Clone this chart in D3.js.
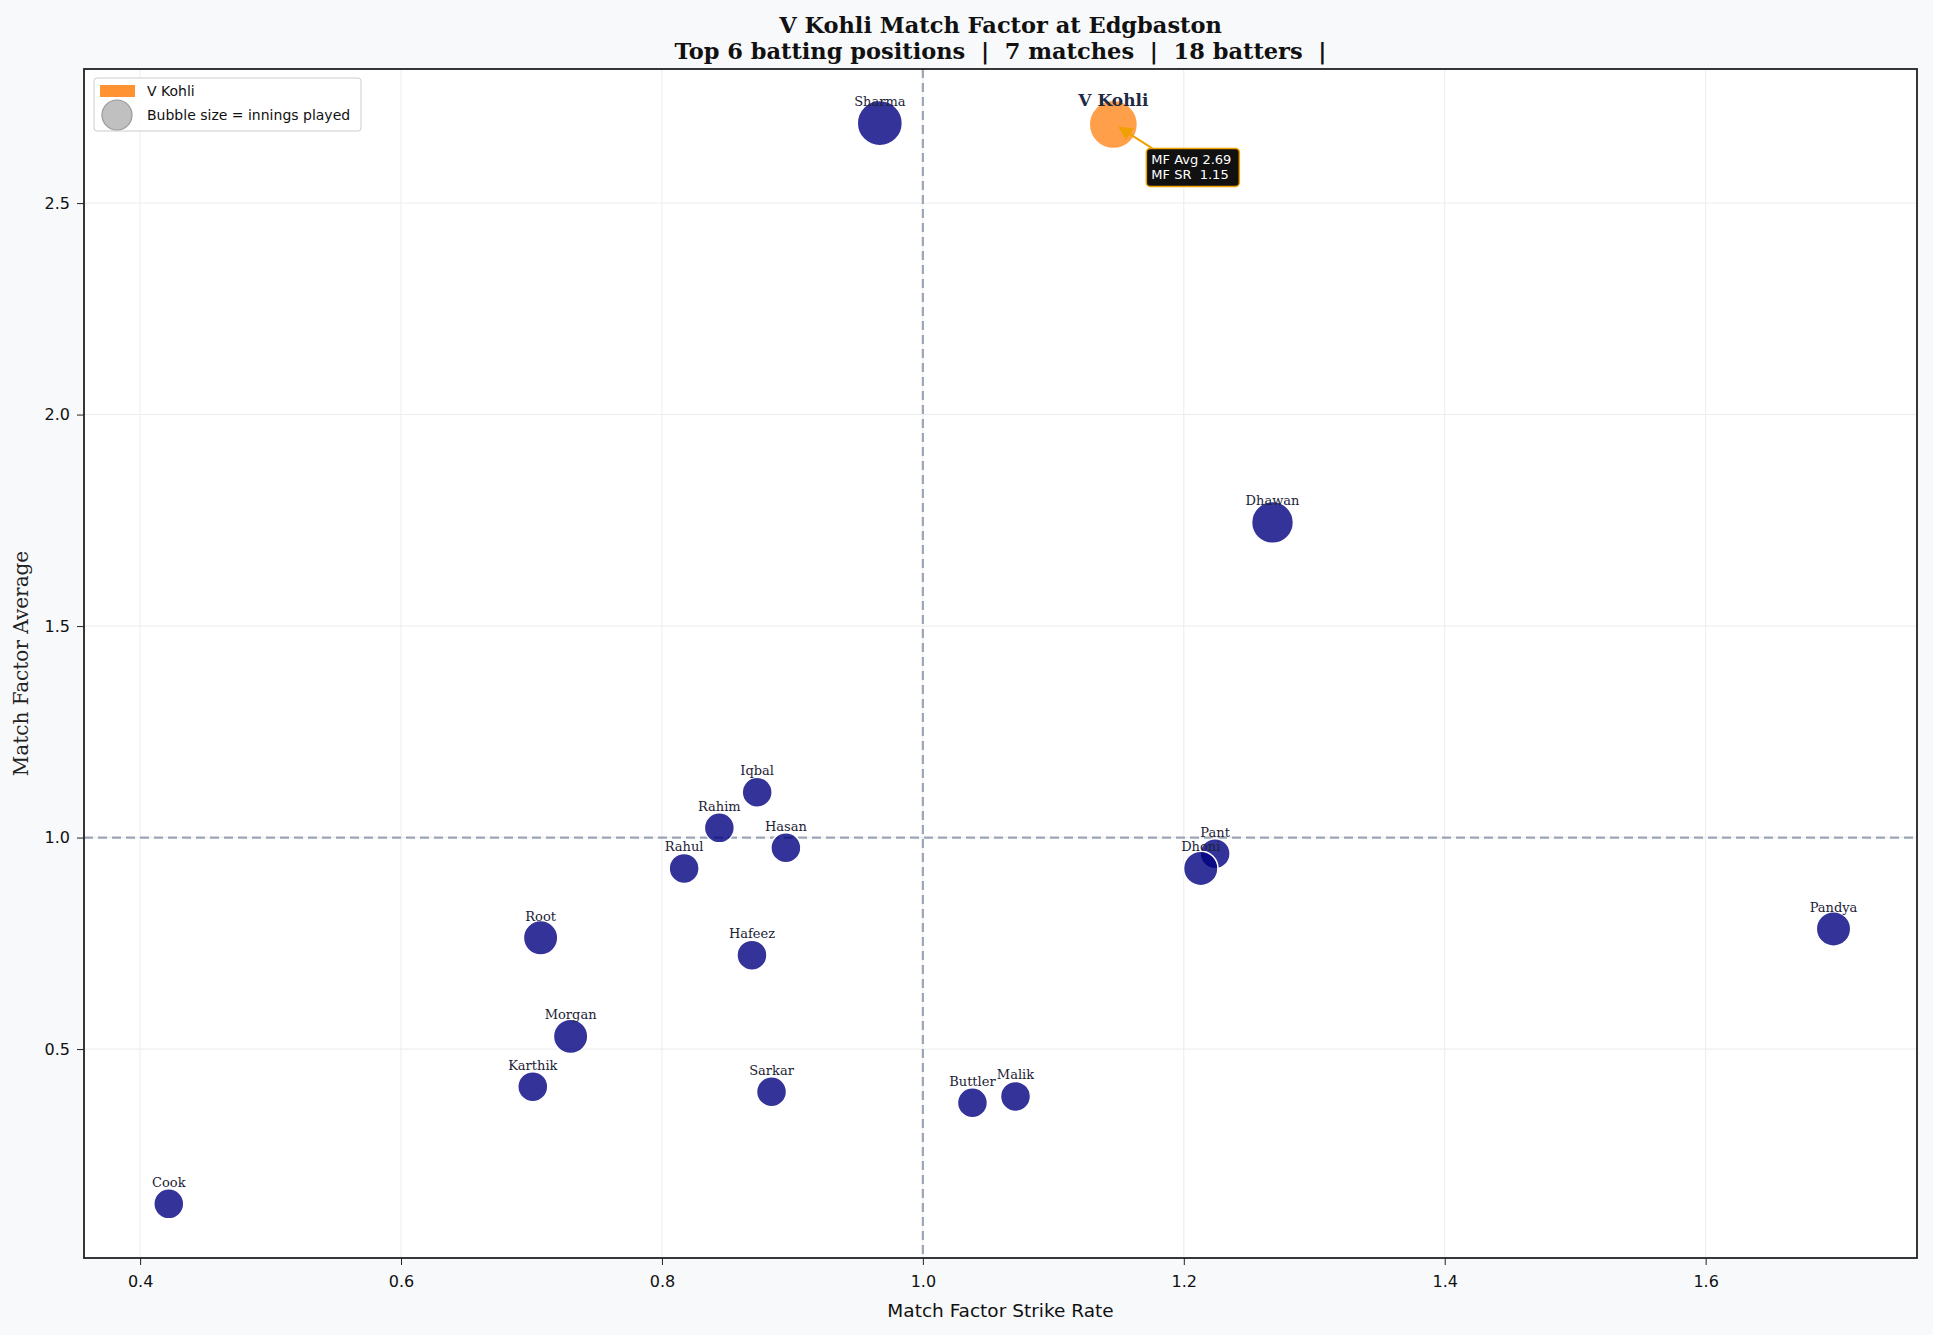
<!DOCTYPE html>
<html>
<head>
<meta charset="utf-8">
<script src="https://cdn.jsdelivr.net/npm/d3@7"></script>
<style>
  body { margin: 0; background: #f8f9fb; }
  svg { display: block; }
</style>
</head>
<body>
<div id="chart"></div>
<script>
// batters at Edgbaston (top 6 positions)
var names   = ["V Kohli", "Sharma", "Dhawan", "Pant", "Dhoni", "Pandya", "Iqbal", "Rahim", "Hasan", "Rahul",
               "Root", "Hafeez", "Morgan", "Karthik", "Sarkar", "Buttler", "Malik", "Cook"];
var mfSR    = [1.146, 0.967, 1.268, 1.224, 1.213, 1.698, 0.873, 0.844, 0.895, 0.817,
               0.707, 0.869, 0.730, 0.701, 0.884, 1.038, 1.071, 0.422];
var mfAvg   = [2.686, 2.689, 1.745, 0.962, 0.927, 0.784, 1.107, 1.023, 0.976, 0.927,
               0.763, 0.722, 0.530, 0.411, 0.399, 0.373, 0.388, 0.134];
var innings = [6, 5, 4, 1, 2, 2, 1, 1, 1, 1,
               2, 1, 2, 1, 1, 1, 1, 1];
var player = "V Kohli";
var annAvg = "2.69", annSR = "1.15";
var xTicks = [0.4, 0.6, 0.8, 1.0, 1.2, 1.4, 1.6];
var yTicks = [0.5, 1.0, 1.5, 2.0, 2.5];

var W = 1933, H = 1335;
var margin = {top: 69, right: 16, bottom: 77, left: 84},
    width = W - margin.left - margin.right,
    height = H - margin.top - margin.bottom;

var sansFont = "'DejaVu Sans', sans-serif";
var serifFont = "'DejaVu Serif', serif";

var data = names.map(function(n, i) {
    return {name: n, x: mfSR[i], y: mfAvg[i], inn: innings[i]};
});

var x = d3.scaleLinear().domain([0.357, 1.762]).range([0, width]);
var y = d3.scaleLinear().domain([0.006, 2.817]).range([height, 0]);
var area = d3.scaleLinear().domain([1, 6]).range([225, 580]);
function radius(d) { return Math.sqrt(area(d.inn)); }

var svg = d3.select("#chart").append("svg")
    .attr("width", W)
    .attr("height", H);

svg.append("rect").attr("width", W).attr("height", H).attr("fill", "#f8f9fb");

var chart = svg.append("g")
    .attr("transform", "translate(" + margin.left + "," + margin.top + ")");

chart.append("rect")
    .attr("width", width).attr("height", height)
    .attr("fill", "#ffffff");

// grid
chart.selectAll(".gx").data(xTicks).enter().append("line")
    .attr("x1", function(d) { return x(d); }).attr("x2", function(d) { return x(d); })
    .attr("y1", 0).attr("y2", height)
    .attr("stroke", "#ececec").attr("stroke-width", 1);
chart.selectAll(".gy").data(yTicks).enter().append("line")
    .attr("y1", function(d) { return y(d); }).attr("y2", function(d) { return y(d); })
    .attr("x1", 0).attr("x2", width)
    .attr("stroke", "#ececec").attr("stroke-width", 1);

// reference lines at 1.0
chart.append("line")
    .attr("x1", x(1)).attr("x2", x(1)).attr("y1", 0).attr("y2", height)
    .attr("stroke", "#9aa5b6").attr("stroke-width", 2.2).attr("stroke-dasharray", "9,5");
chart.append("line")
    .attr("y1", y(1)).attr("y2", y(1)).attr("x1", 0).attr("x2", width)
    .attr("stroke", "#9aa5b6").attr("stroke-width", 2.2).attr("stroke-dasharray", "9,5");

// bubbles
var others = data.filter(function(d) { return d.name !== player; });
var kohli = data.filter(function(d) { return d.name === player; })[0];

chart.selectAll(".bubble").data(others).enter().append("circle")
    .attr("cx", function(d) { return x(d.x); })
    .attr("cy", function(d) { return y(d.y); })
    .attr("r", radius)
    .attr("fill", "#000080")
    .attr("fill-opacity", 0.8)
    .attr("stroke", "#ffffff")
    .attr("stroke-width", 1.5);

chart.selectAll(".lbl").data(others).enter().append("text")
    .attr("x", function(d) { return x(d.x); })
    .attr("y", function(d) { return y(d.y) - 17; })
    .attr("text-anchor", "middle")
    .style("font-family", serifFont)
    .style("font-size", "13px")
    .attr("fill", "#1c2236")
    .text(function(d) { return d.name; });

var kx = x(kohli.x), ky = y(kohli.y);

chart.append("circle")
    .attr("cx", kx).attr("cy", ky)
    .attr("r", radius(kohli))
    .attr("fill", "#ff7f0e")
    .attr("fill-opacity", 0.75)
    .attr("stroke", "#ffffff")
    .attr("stroke-width", 1.5);

chart.append("text")
    .attr("x", kx).attr("y", ky - 18)
    .attr("text-anchor", "middle")
    .style("font-family", serifFont)
    .style("font-size", "17px")
    .style("font-weight", "bold")
    .attr("fill", "#1f2a44")
    .text(player);

// annotation box
var bx = kx + 33, by = ky + 24;
svg.append("defs").append("marker")
    .attr("id", "arr").attr("viewBox", "0 0 10 10")
    .attr("refX", 9).attr("refY", 5)
    .attr("markerWidth", 7).attr("markerHeight", 7)
    .attr("orient", "auto")
    .append("path").attr("d", "M0,0L10,5L0,10z").attr("fill", "#f0a000");

chart.append("line")
    .attr("x1", bx + 6).attr("y1", by)
    .attr("x2", kx + 6).attr("y2", ky + 3)
    .attr("stroke", "#f0a000").attr("stroke-width", 2)
    .attr("marker-end", "url(#arr)");

chart.append("rect")
    .attr("x", bx).attr("y", by)
    .attr("width", 93).attr("height", 38)
    .attr("rx", 4)
    .attr("fill", "#111111")
    .attr("stroke", "#f0a000")
    .attr("stroke-width", 1.5);

var annLines = ["MF Avg " + annAvg, "MF SR  " + annSR];
chart.append("text")
    .attr("x", bx + 5).attr("y", by + 16)
    .style("font-family", sansFont)
    .style("font-size", "13px")
    .style("white-space", "pre")
    .attr("fill", "#ffffff")
    .selectAll("tspan").data(annLines).enter().append("tspan")
    .attr("x", bx + 5)
    .attr("dy", function(d, i) { return i ? 15 : 0; })
    .text(function(d) { return d; });

// axes
var xAxis = chart.append("g")
    .attr("transform", "translate(0," + height + ")")
    .call(d3.axisBottom(x).tickValues(xTicks).tickFormat(d3.format(".1f")).tickSizeOuter(0).tickSize(7).tickPadding(11));
var yAxis = chart.append("g")
    .call(d3.axisLeft(y).tickValues(yTicks).tickFormat(d3.format(".1f")).tickSizeOuter(0).tickSize(7).tickPadding(7));

[xAxis, yAxis].forEach(function(a) {
    a.select(".domain").remove();
    a.selectAll("line").attr("stroke", "#222");
    a.selectAll("text")
        .style("font-family", sansFont)
        .style("font-size", "16px")
        .attr("fill", "#111");
});

// frame
chart.append("rect")
    .attr("width", width).attr("height", height)
    .attr("fill", "none")
    .attr("stroke", "#222").attr("stroke-width", 1.8);

// axis titles
svg.append("text")
    .attr("x", margin.left + width / 2).attr("y", 1317)
    .attr("text-anchor", "middle")
    .style("font-family", sansFont)
    .style("font-size", "18.5px")
    .attr("fill", "#111")
    .text("Match Factor Strike Rate");

svg.append("text")
    .attr("transform", "translate(28," + (margin.top + height / 2) + ") rotate(-90)")
    .attr("text-anchor", "middle")
    .style("font-family", serifFont)
    .style("font-size", "20px")
    .attr("fill", "#222")
    .text("Match Factor Average");

// title
var title = svg.append("text")
    .attr("text-anchor", "middle")
    .style("font-family", serifFont)
    .style("font-size", "22.5px")
    .style("font-weight", "bold")
    .style("white-space", "pre")
    .attr("fill", "#111");
title.append("tspan").attr("x", margin.left + width / 2).attr("y", 33)
    .text("V Kohli Match Factor at Edgbaston");
title.append("tspan").attr("x", margin.left + width / 2).attr("y", 59)
    .text("Top 6 batting positions  |  7 matches  |  18 batters  |");

// legend
var legend = chart.append("g").attr("transform", "translate(10,9)");
legend.append("rect")
    .attr("width", 267).attr("height", 53)
    .attr("rx", 3)
    .attr("fill", "#ffffff").attr("fill-opacity", 0.85)
    .attr("stroke", "#cccccc").attr("stroke-width", 1);
legend.append("rect")
    .attr("x", 6).attr("y", 7).attr("width", 35).attr("height", 12)
    .attr("fill", "#ff7f0e").attr("fill-opacity", 0.85);
legend.append("circle")
    .attr("cx", 23).attr("cy", 37).attr("r", 15)
    .attr("fill", "#c0c0c0")
    .attr("stroke", "#999").attr("stroke-width", 1.2);
legend.append("text")
    .attr("x", 53).attr("y", 18)
    .style("font-family", sansFont).style("font-size", "14px")
    .attr("fill", "#111")
    .text("V Kohli");
legend.append("text")
    .attr("x", 53).attr("y", 42)
    .style("font-family", sansFont).style("font-size", "14px")
    .attr("fill", "#111")
    .text("Bubble size = innings played");
</script>
</body>
</html>
